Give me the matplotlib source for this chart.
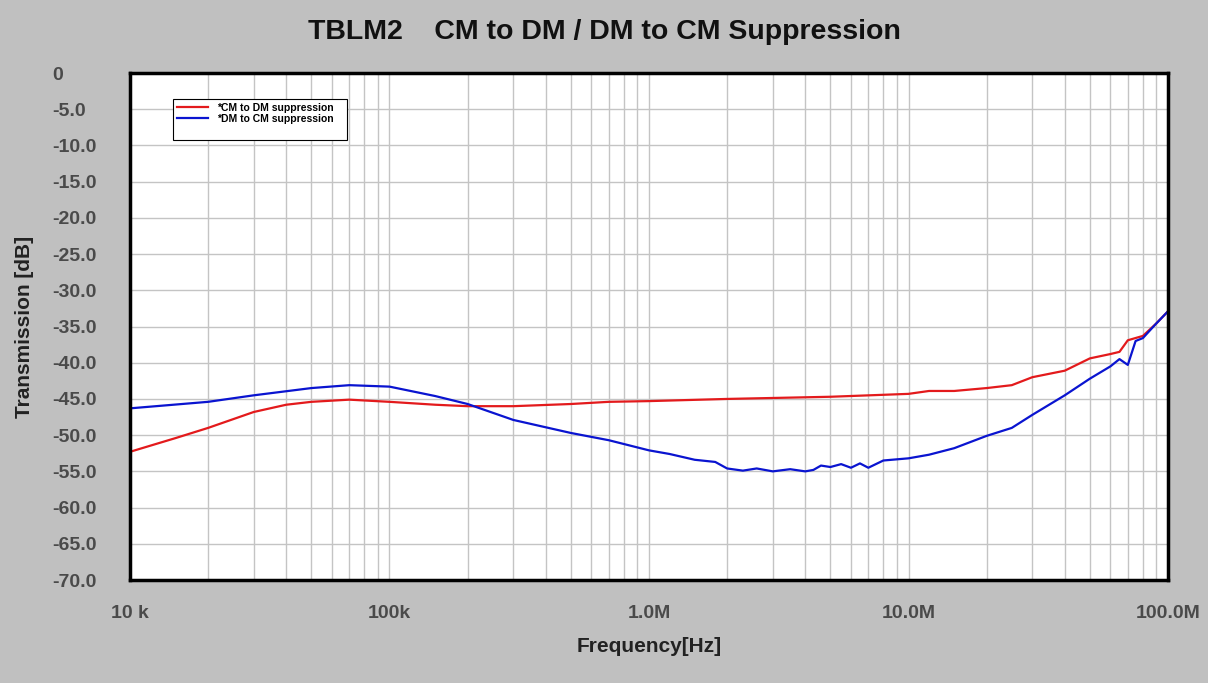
# TBLM2: supresion CM->DM / DM->CM
import matplotlib
matplotlib.use("Agg")
import matplotlib.pyplot as plt
import matplotlib.patches as mpatches
import numpy as np
from matplotlib.ticker import FixedLocator, LogLocator, NullFormatter

plt.rcParams['font.family'] = ['Liberation Sans', 'DejaVu Sans']

# frecuencias [Hz] y valores [dB]
freq_red = [1e4, 1.5e4, 2e4, 3e4, 4e4, 5e4, 7e4, 1e5, 1.5e5, 2e5, 3e5, 5e5, 7e5,
            1e6, 2e6, 5e6, 1e7, 1.2e7, 1.5e7, 2e7, 2.5e7, 3e7, 4e7, 5e7, 6e7, 6.5e7, 7e7, 8e7, 9e7, 1e8]
cm_to_dm = [-52.3, -50.4, -49.0, -46.8, -45.8, -45.4, -45.1, -45.4, -45.8, -46.0, -46.0, -45.7, -45.4,
            -45.3, -45.0, -44.7, -44.3, -43.9, -43.9, -43.5, -43.1, -42.0, -41.1, -39.4, -38.8, -38.5,
            -36.9, -36.3, -34.6, -32.9]

freq_blue = [1e4, 2e4, 3e4, 5e4, 7e4, 1e5, 1.5e5, 2e5, 3e5, 5e5, 7e5, 1e6, 1.2e6, 1.5e6,
             1.8e6, 2e6, 2.3e6, 2.6e6, 3e6, 3.5e6, 4e6, 4.3e6, 4.6e6, 5e6, 5.5e6, 6e6, 6.5e6, 7e6, 8e6,
             1e7, 1.2e7, 1.5e7, 2e7, 2.5e7, 3e7, 4e7, 5e7, 6e7, 6.5e7, 7e7, 7.5e7, 8e7, 9e7, 1e8]
dm_to_cm = [-46.3, -45.4, -44.5, -43.5, -43.1, -43.3, -44.6, -45.7, -47.9, -49.7, -50.7, -52.1, -52.6, -53.4,
            -53.7, -54.6, -54.9, -54.6, -55.0, -54.7, -55.0, -54.8, -54.2, -54.4, -54.0, -54.5, -53.9, -54.5, -53.5,
            -53.2, -52.7, -51.8, -50.1, -49.0, -47.2, -44.5, -42.2, -40.5, -39.5, -40.3, -37.0, -36.6, -34.6, -32.9]

fig = plt.figure(figsize=(12.08, 6.83), dpi=100, facecolor='#c0c0c0')
ax = fig.add_axes([0.1076, 0.1508, 0.8593, 0.7423])
ax.set_facecolor('white')

ax.plot(freq_red, cm_to_dm, color='#e31a1c', lw=1.6, label='*CM to DM suppression')
ax.plot(freq_blue, dm_to_cm, color='#0a14d0', lw=1.6, label='*DM to CM suppression')

ax.set_xscale('log')
ax.set_xlim(1e4, 1e8)
ax.set_ylim(-70, 0)

ax.xaxis.set_major_locator(FixedLocator([1e4, 1e5, 1e6, 1e7, 1e8]))
ax.xaxis.set_minor_locator(LogLocator(base=10, subs=np.arange(2, 10)))
ax.xaxis.set_minor_formatter(NullFormatter())
ax.set_xticklabels(['10 k', '100k', '1.0M', '10.0M', '100.0M'])
yt = np.arange(0, -75, -5)
ax.set_yticks(yt)
ax.set_yticklabels(['0'] + ['%.1f' % v for v in yt[1:]])

ax.grid(True, which='both', color='#c4c4c4', lw=1.0)
ax.tick_params(which='both', length=0, labelsize=14, labelcolor='#4a4a4a')
ax.tick_params(axis='x', pad=18)
ax.tick_params(axis='y', pad=56)
for t in ax.get_yticklabels():
    t.set_ha('left')
    t.set_fontweight('bold')
for t in ax.get_xticklabels():
    t.set_fontweight('bold')

for s in ax.spines.values():
    s.set_linewidth(2.5)
    s.set_color('black')

ax.set_xlabel('Frequency[Hz]', fontsize=15, fontweight='bold', color='#222222', labelpad=11)
ax.set_ylabel('Transmission [dB]', fontsize=15, fontweight='bold', color='#222222')
ax.yaxis.set_label_coords(-0.0925, 0.5)

fig.text(0.5, 0.953, 'TBLM2    CM to DM / DM to CM Suppression', ha='center', va='center',
         fontsize=20.5, fontweight='bold', color='#111111')

# caja de la leyenda (mas alta que las dos entradas, como en el original)
box = mpatches.Rectangle((0.0414, 0.868), 0.1676, 0.0807, transform=ax.transAxes,
                         facecolor='white', edgecolor='black', lw=0.8, zorder=4)
ax.add_patch(box)
leg = ax.legend(loc='upper left', bbox_to_anchor=(0.0414, 0.9487), fontsize=7.5, frameon=False,
                borderpad=0.35, handlelength=3.0, handletextpad=0.9, labelspacing=0.1,
                borderaxespad=0)
leg.set_zorder(5)
for t in leg.get_texts():
    t.set_fontweight('bold')

fig.savefig('out.png', dpi=100, facecolor=fig.get_facecolor())
